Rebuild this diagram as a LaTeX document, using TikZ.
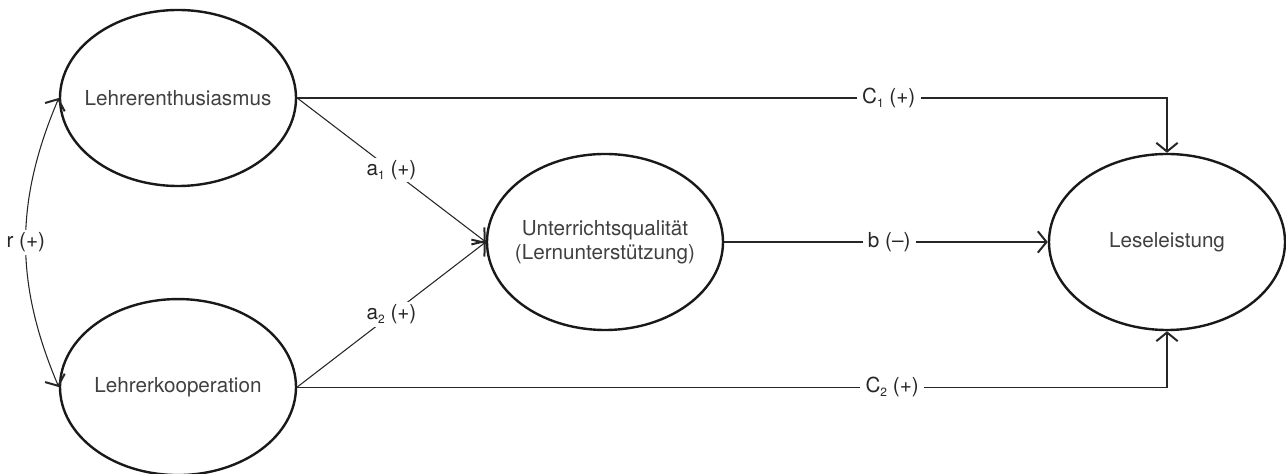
\documentclass[tikz,border=0pt]{standalone}
\usepackage{fontspec}
\setmainfont{TeX Gyre Heros}
\usepackage{xcolor}
\usepackage{tikz}
\usetikzlibrary{positioning,arrows.meta,shapes.geometric}

\newcommand{\idx}[1]{\raisebox{-0.35ex}{\fontsize{9}{10}\selectfont#1}}

\begin{document}
\begin{tikzpicture}[
  x=0.75pt, y=0.75pt,
  node distance=83pt,
  font=\fontsize{15.5}{18}\selectfont, text=black!75,
  latent/.style={draw=black!90, ellipse, line width=1.8pt, minimum width=177pt,
                 minimum height=132pt, inner sep=0pt,
                 label={[align=center, text=black!75]center:#1}},
  barb/.tip={Straight Barb[length=6.5pt,width=16pt,line width=1.5pt]},
  arr/.style={-barb, line width=0.8pt, black!85},
  lbl/.style={fill=white, inner xsep=4pt, inner ysep=2pt}]
  \useasboundingbox (0,0) rectangle (1286,474);
  \node[latent=Lehrerenthusiasmus] (enth) at (178,376) {};
  \node[latent=Lehrerkooperation, below=of enth] (koop) {};
  \node[latent={Unterrichtsqualität\\(Lernunterstützung)}] (uq) at (605,232) {};
  \node[latent=Leseleistung] (lese) at (1167,232) {};
  \draw[arr] (enth.east) -- node[lbl] {a\idx{1} (+)} (uq.west);
  \draw[arr] (koop.east) -- node[lbl] {a\idx{2} (+)} (uq.west);
  \draw[arr] (enth.east) -| node[lbl, pos=0.34] {C\idx{1} (+)} (lese.north);
  \draw[arr] (koop.east) -| node[lbl, pos=0.342] {C\idx{2} (+)} (lese.south);
  \draw[arr] (uq.east) -- node[lbl, pos=0.51] {b (–)} (lese.west);
  \draw[arr, barb-barb] (enth.west) to[bend right=23] node[lbl, inner xsep=1pt] {r (+)} (koop.west);
\end{tikzpicture}
\end{document}
